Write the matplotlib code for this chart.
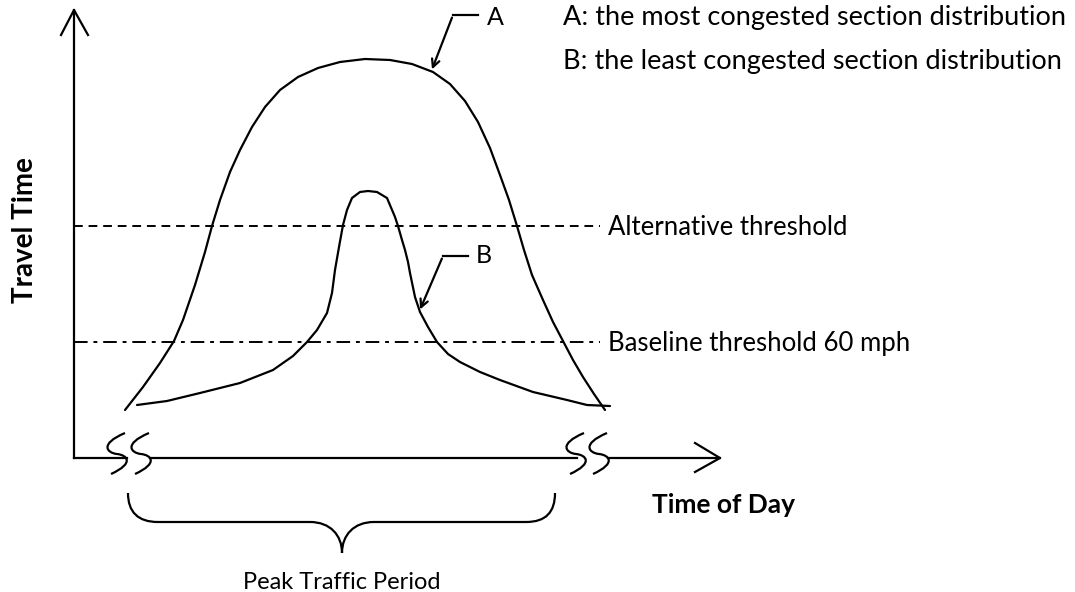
import matplotlib.pyplot as plt
from matplotlib.path import Path
from matplotlib.patches import PathPatch

plt.rcParams['font.family'] = ['Lato', 'DejaVu Sans']

# curve A: most congested section (x, y, y grows downwards)
a_x = [125, 143, 160, 174, 183, 195, 205, 212, 220, 230, 240, 252, 265, 280, 298, 318, 340, 365,
       390, 412, 433, 450, 465, 478, 490, 500, 509, 517, 524, 532, 543, 553, 563, 573, 583, 594, 605]
a_y = [410, 387, 363, 341, 320, 285, 252, 226, 200, 172, 150, 127, 107, 90, 77, 68, 62, 59,
       60, 64, 72, 84, 101, 122, 148, 175, 200, 226, 250, 275, 300, 322, 341, 360, 377, 394, 410]

# curve B: least congested section
b_x = [137, 167, 200, 240, 273, 293, 307, 317, 327, 332, 335, 339, 343, 347, 352, 360, 368, 377,
       387, 395, 398, 402, 405, 408, 410, 415, 420, 428, 437, 448, 460, 480, 500, 533, 567, 587, 610]
b_y = [405, 401, 393, 383, 370, 356, 342, 330, 313, 293, 270, 247, 225, 210, 198, 192, 191, 192,
       198, 217, 226, 240, 250, 262, 273, 297, 312, 327, 342, 354, 362, 372, 380, 392, 400, 405, 406]

alt_y = 226
base_y = 342
line_x = (74, 600)

legend_lines = ['A: the most congested section distribution',
                'B: the least congested section distribution']

fig = plt.figure(figsize=(10.75, 5.92), dpi=100)
ax = fig.add_axes([0, 0, 1, 1])
ax.set_xlim(0, 1075)
ax.set_ylim(592, 0)
ax.axis('off')

lw = 1.6
ax.plot(a_x, a_y, color='black', lw=lw, solid_capstyle='round', solid_joinstyle='round')
ax.plot(b_x, b_y, color='black', lw=lw, solid_capstyle='round', solid_joinstyle='round')

# thresholds
ax.plot(line_x, [alt_y, alt_y], color='black', lw=1.4, linestyle=(0, (4.5, 3)))
ax.plot(line_x, [base_y, base_y], color='black', lw=1.4, linestyle=(0, (7, 3, 2, 3)))
ax.text(608, alt_y + 9, 'Alternative threshold', fontsize=18.5, va='baseline', ha='left')
ax.text(608, base_y + 9, 'Baseline threshold 60 mph', fontsize=18.5, va='baseline', ha='left')

# y axis with open arrow
ax.plot([74, 74], [458, 10], color='black', lw=lw)
ax.plot([61, 74, 88], [35, 10, 35], color='black', lw=lw)

# x axis, broken twice
ax.plot([74, 127], [458, 458], color='black', lw=lw)
ax.plot([150, 577], [458, 458], color='black', lw=lw)
ax.plot([608, 720], [458, 458], color='black', lw=lw)
ax.plot([695, 720, 695], [443, 458, 472], color='black', lw=lw)


def s_break(cx, cy=454):
    verts = [(cx + 8, cy - 21), (cx - 18, cy - 10), (cx - 10, cy - 1), (cx, cy),
             (cx + 10, cy + 1), (cx + 18, cy + 9), (cx - 6, cy + 20)]
    codes = [Path.MOVETO] + [Path.CURVE4] * 6
    ax.add_patch(PathPatch(Path(verts, codes), fill=False, lw=lw, color='black'))


for cx in (117, 141, 576, 599):
    s_break(cx)

# curly brace under the peak period
brace = [(128, 493), (128, 512), (138, 522), (158, 522),
         (310, 522),
         (330, 522), (342, 535), (342, 553),
         (342, 535), (354, 522), (374, 522),
         (526, 522),
         (546, 522), (555, 512), (555, 493)]
codes = [Path.MOVETO, Path.CURVE4, Path.CURVE4, Path.CURVE4, Path.LINETO,
         Path.CURVE4, Path.CURVE4, Path.CURVE4,
         Path.CURVE4, Path.CURVE4, Path.CURVE4, Path.LINETO,
         Path.CURVE4, Path.CURVE4, Path.CURVE4]
ax.add_patch(PathPatch(Path(brace, codes), fill=False, lw=lw, color='black'))
ax.text(342, 589, 'Peak Traffic Period', fontsize=17, ha='center', va='baseline')

# leader labels A and B
arrow = dict(arrowstyle='->', color='black', lw=lw, mutation_scale=14)
ax.plot([453, 478], [15, 15], color='black', lw=lw)
ax.annotate('', xy=(431, 72), xytext=(453, 15), arrowprops=arrow)
ax.text(487, 25, 'A', fontsize=18, va='baseline', ha='left')
ax.plot([443, 468], [256, 256], color='black', lw=lw)
ax.annotate('', xy=(419, 312), xytext=(443, 256), arrowprops=arrow)
ax.text(476, 263, 'B', fontsize=18, va='baseline', ha='left')

# key
ax.text(563, 25, legend_lines[0], fontsize=19.5, va='baseline', ha='left')
ax.text(563, 69, legend_lines[1], fontsize=19.5, va='baseline', ha='left')

# axis titles
ax.text(652, 513, 'Time of Day', fontsize=19, fontweight='bold', va='baseline', ha='left')
ax.text(25, 230, 'Travel Time', fontsize=20, fontweight='bold', va='center', ha='center',
        rotation=90)

fig.savefig('out.png', dpi=100)
